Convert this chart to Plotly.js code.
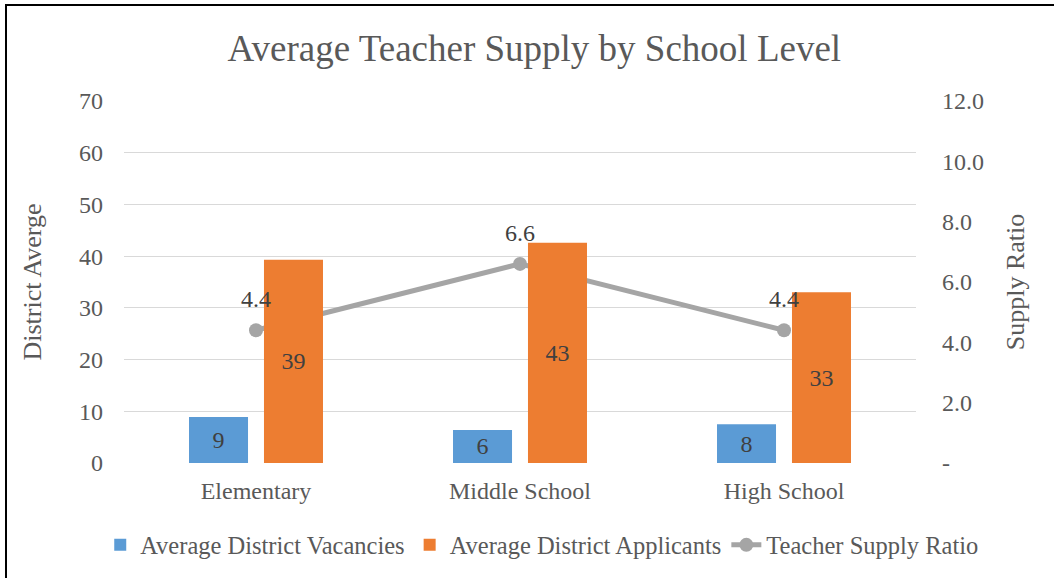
<!DOCTYPE html>
<html>
<head>
<meta charset="utf-8">
<script src="https://cdn.plot.ly/plotly-3.0.1.min.js"></script>
<style>
  html, body { margin: 0; padding: 0; background: #fff; }
  #wrap { position: relative; width: 1054px; height: 578px; overflow: hidden; }
  #chart { width: 1054px; height: 578px; }
  #frame { position: absolute; left: 5px; top: 4px; width: 2000px; height: 2000px;
           border-top: 2px solid #000; border-left: 2px solid #000; pointer-events: none; }
</style>
</head>
<body>
<div id="wrap">
  <div id="chart"></div>
  <div id="frame"></div>
</div>
<script>
const categories = ["Elementary", "Middle School", "High School"];
const vacancies = [8.9, 6.4, 7.5];
const applicants = [39.3, 42.6, 33.0];
const supplyRatio = [4.4, 6.6, 4.4];
const ratioTickVals = [0, 2, 4, 6, 8, 10, 12];
const ratioTickText = ["-", "2.0", "4.0", "6.0", "8.0", "10.0", "12.0"];

const FONT = '"Liberation Serif", "Times New Roman", serif';
const TXT = '#595959';
const LBL = '#404040';

const traces = [
  {
    type: 'scatter', mode: 'lines+markers', name: 'Teacher Supply Ratio',
    x: categories, y: supplyRatio, xaxis: 'x', yaxis: 'y',
    line: { color: '#A5A5A5', width: 5 },
    marker: { color: '#A5A5A5', size: 14 },
    legendrank: 3, hoverinfo: 'skip'
  },
  {
    type: 'bar', name: 'Average District Vacancies',
    x: categories, y: vacancies, xaxis: 'x', yaxis: 'y2',
    marker: { color: '#5B9BD5' },
    texttemplate: '%{y:.0f}', textposition: 'inside', insidetextanchor: 'middle',
    textangle: 0, constraintext: 'none',
    textfont: { family: FONT, size: 24, color: LBL },
    legendrank: 1, hoverinfo: 'skip'
  },
  {
    type: 'bar', name: 'Average District Applicants',
    x: categories, y: applicants, xaxis: 'x', yaxis: 'y2',
    marker: { color: '#ED7D31' },
    texttemplate: '%{y:.0f}', textposition: 'inside', insidetextanchor: 'middle',
    textangle: 0, constraintext: 'none',
    textfont: { family: FONT, size: 24, color: LBL },
    legendrank: 2, hoverinfo: 'skip'
  }
];

const annotations = categories.map((c, i) => ({
  x: c, y: supplyRatio[i], xref: 'x', yref: 'y',
  text: supplyRatio[i].toFixed(1), showarrow: false, yshift: 31,
  font: { family: FONT, size: 24, color: LBL }
}));

const layout = {
  width: 1054, height: 578,
  paper_bgcolor: '#fff', plot_bgcolor: '#fff',
  margin: { l: 124, r: 138, t: 101, b: 114 },
  font: { family: FONT, size: 24, color: TXT },
  title: {
    text: 'Average Teacher Supply by School Level',
    font: { family: FONT, size: 37, color: TXT },
    xref: 'container', x: 0.507, xanchor: 'center',
    yref: 'container', y: 1 - 48 / 578, yanchor: 'middle'
  },
  barmode: 'group', bargap: 0.432, bargroupgap: 0.213,
  xaxis: {
    type: 'category', showgrid: false, zeroline: false,
    showline: false, ticks: '', ticklabelstandoff: 11,
    tickfont: { family: FONT, size: 24, color: TXT }
  },
  yaxis: {
    side: 'right', range: [0, 12], tickvals: ratioTickVals, ticktext: ratioTickText,
    showgrid: false, zeroline: false,
    showline: false, ticks: '', ticklabelstandoff: 25,
    tickfont: { family: FONT, size: 24, color: TXT },
    title: { text: 'Supply Ratio', font: { family: FONT, size: 26, color: TXT }, standoff: 22 }
  },
  yaxis2: {
    overlaying: 'y', side: 'left', range: [0, 70], dtick: 10, tick0: 0,
    showgrid: true, gridcolor: '#D9D9D9', gridwidth: 1,
    zeroline: false, showline: false, ticks: '', ticklabelstandoff: 20,
    tickfont: { family: FONT, size: 24, color: TXT },
    title: { text: 'District Averge', font: { family: FONT, size: 26, color: TXT }, standoff: 29 }
  },
  legend: {
    orientation: 'h', x: -0.03, xref: 'paper', xanchor: 'left',
    y: -0.223, yref: 'paper', yanchor: 'middle',
    font: { family: FONT, size: 24.5, color: TXT },
    itemwidth: 30,
    traceorder: 'normal', itemclick: false, itemdoubleclick: false
  },
  annotations: annotations,
  showlegend: true
};

Plotly.newPlot('chart', traces, layout, { displayModeBar: false, staticPlot: true });
</script>
</body>
</html>
